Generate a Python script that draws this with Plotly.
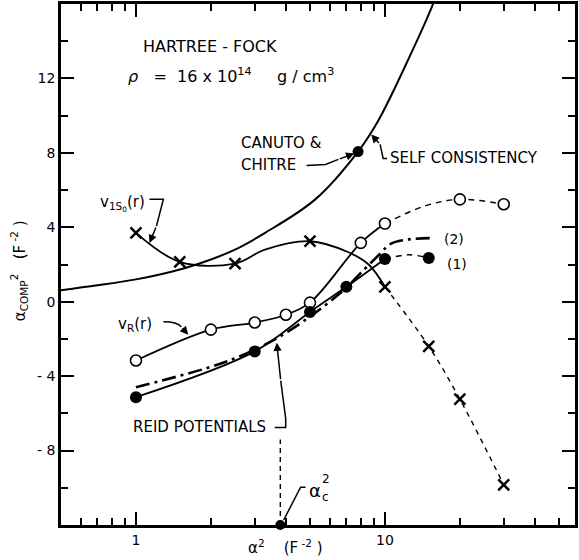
import math
import plotly.graph_objects as go

# ---------------- data ----------------
# self-consistency curve (solid, no markers)
sc_x = [0.5, 0.7, 1.0, 1.4, 1.8, 2.5, 3.3, 5.25, 7.8, 9.4, 12.0, 15.6, 16.5]
sc_y = [0.62, 0.88, 1.2, 1.62, 2.05, 2.8, 3.7, 5.5, 8.07, 9.73, 12.6, 16.0, 17.0]

# v_1S0(r) : crosses
iso_x = [1, 1.5, 2.5, 5, 10, 15, 20, 30]
iso_y = [3.7, 2.14, 2.05, 3.25, 0.8, -2.4, -5.24, -9.84]
iso_line_x = [1, 1.5, 2.5, 3.3, 5, 7.1, 8.6, 10]
iso_line_y = [3.7, 2.14, 2.05, 2.8, 3.25, 2.67, 2.0, 0.8]
iso_dash_x = [10, 15, 20, 30]
iso_dash_y = [0.8, -2.4, -5.24, -9.84]

# v_R(r) : open circles
vr_x = [1, 2, 3, 4, 5, 8, 10, 20, 30]
vr_y = [-3.16, -1.5, -1.12, -0.7, -0.05, 3.16, 4.2, 5.5, 5.24]
vr_dash_x = [10, 14.5, 20, 30]
vr_dash_y = [4.2, 5.15, 5.5, 5.24]

# Reid potential (1) : filled circles
r1_x = [1, 3, 5, 7, 10, 15]
r1_y = [-5.13, -2.67, -0.55, 0.8, 2.3, 2.35]
r1_dash_x = [10, 12.5, 15]
r1_dash_y = [2.3, 2.52, 2.35]

# Reid potential (2) : dash-dot line
r2_x = [1, 2, 2.65, 3.7, 5, 6, 7, 8, 9.6, 10.5, 12.5, 15.5]
r2_y = [-4.6, -3.5, -2.9, -1.95, -0.8, 0.0, 0.75, 1.55, 2.6, 3.1, 3.35, 3.42]

# Canuto & Chitre point
cc_x = [7.8]
cc_y = [8.07]

# alpha_c^2
alpha_c2 = 3.8
alpha_c_line_y = [-12, -7.4]

# axes
x_range = [0.5, 58.0]
y_range = [-12, 16]
x_tickvals = [1, 10]
x_ticktext = ["1", "10"]
x_minor = [0.6, 0.7, 0.8, 0.9, 2, 3, 4, 5, 6, 7, 8, 9, 20, 30, 40, 50]
y_tickvals = [-8, -4, 0, 4, 8, 12]
y_ticktext = ["- 8", "- 4", "0", "4", "8", "12"]
y_minor = [-10, -6, -2, 2, 6, 10, 14]

# ---------------- figure ----------------
W, H = 579, 560
ML, MR, MT, MB = 61, 1, 2, 35
PW, PH = W - ML - MR, H - MT - MB
FONT = "DejaVu Sans"


def P(px, py):
    return (px - ML) / PW, (H - MB - py) / PH


fig = go.Figure()
LW = 1.8

fig.add_trace(go.Scatter(x=sc_x, y=sc_y, mode="lines",
                         line=dict(color="black", width=2, shape="spline", smoothing=1.0)))
fig.add_trace(go.Scatter(x=iso_line_x, y=iso_line_y, mode="lines",
                         line=dict(color="black", width=LW, shape="spline")))
fig.add_trace(go.Scatter(x=iso_dash_x, y=iso_dash_y, mode="lines",
                         line=dict(color="black", width=1.4, dash="5px,5px", shape="spline")))
fig.add_trace(go.Scatter(x=vr_x[:7], y=vr_y[:7], mode="lines",
                         line=dict(color="black", width=LW, shape="spline")))
fig.add_trace(go.Scatter(x=vr_dash_x, y=vr_dash_y, mode="lines",
                         line=dict(color="black", width=1.4, dash="6px,5px", shape="spline")))
fig.add_trace(go.Scatter(x=r1_x[:5], y=r1_y[:5], mode="lines",
                         line=dict(color="black", width=LW, shape="spline")))
fig.add_trace(go.Scatter(x=r1_dash_x, y=r1_dash_y, mode="lines",
                         line=dict(color="black", width=1.4, dash="6px,5px", shape="spline")))
fig.add_trace(go.Scatter(x=r2_x, y=r2_y, mode="lines",
                         line=dict(color="black", width=2.6, dash="14px,5px,3px,5px", shape="spline")))
fig.add_trace(go.Scatter(x=[alpha_c2, alpha_c2], y=alpha_c_line_y, mode="lines",
                         line=dict(color="black", width=1.4, dash="5px,4px")))

# markers
fig.add_trace(go.Scatter(x=iso_x, y=iso_y, mode="markers",
                         marker=dict(symbol="x-thin", size=11, line=dict(color="black", width=2.5))))
fig.add_trace(go.Scatter(x=vr_x, y=vr_y, mode="markers",
                         marker=dict(symbol="circle", size=11, color="white",
                                     line=dict(color="black", width=1.6))))
fig.add_trace(go.Scatter(x=r1_x, y=r1_y, mode="markers",
                         marker=dict(symbol="circle", size=12, color="black")))
fig.add_trace(go.Scatter(x=cc_x, y=cc_y, mode="markers",
                         marker=dict(symbol="circle", size=11, color="black")))
fig.add_trace(go.Scatter(x=[alpha_c2], y=[y_range[0]], mode="markers", cliponaxis=False,
                         marker=dict(symbol="circle", size=10, color="black")))

# ---------------- leader lines ----------------
shapes = []


def path(points, curve=False):
    pts = [P(*p) for p in points]
    if curve and len(pts) == 3:
        s = "M %f,%f Q %f,%f %f,%f" % (pts[0] + pts[1] + pts[2])
    else:
        s = "M " + " L ".join("%f,%f" % p for p in pts)
    shapes.append(dict(type="path", xref="paper", yref="paper", path=s,
                       line=dict(color="black", width=1.5)))


annots = []


def arrow(tip, tail):
    tx, ty = P(*tip)
    annots.append(dict(x=tx, y=ty, xref="paper", yref="paper", text="",
                       showarrow=True, arrowhead=2, arrowsize=1.1, arrowwidth=1.5,
                       arrowcolor="black", ax=tail[0] - tip[0], ay=tail[1] - tip[1]))


def label(px, py, text, size=14, anchor="left"):
    x, y = P(px, py)
    annots.append(dict(x=x, y=y, xref="paper", yref="paper", text=text, showarrow=False,
                       xanchor=anchor, yanchor="middle",
                       font=dict(family=FONT, size=size, color="black")))


# v1S0 leader
path([(150, 198), (164, 198), (157, 225)])
arrow((150, 242), (157, 225))
# vR leader
path([(164, 321), (178, 321), (182, 326)], curve=True)
arrow((189, 334), (182, 326))
# Canuto & Chitre leader
path([(308, 164), (327, 163), (340, 158)])
arrow((356, 152), (340, 158))
# self consistency leader
path([(389, 157), (385, 157), (382, 143)])
arrow((373, 133), (382, 143))
# Reid leader
path([(276, 427), (287, 427), (287, 418), (282, 380)])
arrow((278, 342), (282, 380))
# alpha_c leader
path([(285, 520), (302, 487), (307, 487)])

# ---------------- labels ----------------
label(141, 45, "HARTREE - FOCK", 16)
label(126, 74, "<i>ρ</i>   =  16 x 10<sup>14</sup>     g / cm<sup>3</sup>", 16)
label(240, 142, "CANUTO &amp;", 15)
label(240, 164, "CHITRE", 15)
label(390, 157, "SELF CONSISTENCY", 15)
label(98, 202, "v<sub>1S<sub>0</sub></sub>(r)", 15)
label(116, 324, "v<sub>R</sub>(r)", 15)
label(131, 427, "REID POTENTIALS", 15)
label(444, 238, "(2)", 14)
label(447, 263, "(1)", 14)
label(308, 490, "α", 18)
label(322, 479, "2", 12)
label(322, 497, "c", 12)

# axis titles
label(287, 547, "α<sup>2</sup>    (F<sup> -2</sup> )", 15, anchor="center")
yt = P(19, 270)
annots.append(dict(x=yt[0], y=yt[1], xref="paper", yref="paper",
                   text="α<sub>COMP</sub><sup>2</sup>   (F<sup> -2</sup> )",
                   textangle=-90, showarrow=False, xanchor="center", yanchor="middle",
                   font=dict(family=FONT, size=15, color="black")))

fig.update_layout(
    width=W, height=H,
    margin=dict(l=ML, r=MR, t=MT, b=MB),
    paper_bgcolor="white", plot_bgcolor="white",
    showlegend=False,
    shapes=shapes, annotations=annots,
    font=dict(family=FONT, size=13, color="black"),
)
fig.update_xaxes(type="log", range=[math.log10(x_range[0]), math.log10(x_range[1])],
                 tickmode="array", tickvals=x_tickvals, ticktext=x_ticktext,
                 ticks="inside", ticklen=13, tickwidth=2, tickcolor="black",
                 minor=dict(tickmode="array", tickvals=x_minor, ticks="inside",
                            ticklen=7, tickwidth=2, tickcolor="black"),
                 showline=True, linewidth=2.5, linecolor="black", mirror="ticks",
                 showgrid=False, zeroline=False,
                 tickfont=dict(family=FONT, size=14, color="black"))
fig.update_yaxes(range=y_range, tickmode="array", tickvals=y_tickvals, ticktext=y_ticktext,
                 ticks="inside", ticklen=13, tickwidth=2, tickcolor="black",
                 minor=dict(tickmode="array", tickvals=y_minor, ticks="inside",
                            ticklen=7, tickwidth=2, tickcolor="black"),
                 showline=True, linewidth=2.5, linecolor="black", mirror="ticks",
                 showgrid=False, zeroline=False,
                 tickfont=dict(family=FONT, size=14, color="black"))

fig.write_html("out.html")
